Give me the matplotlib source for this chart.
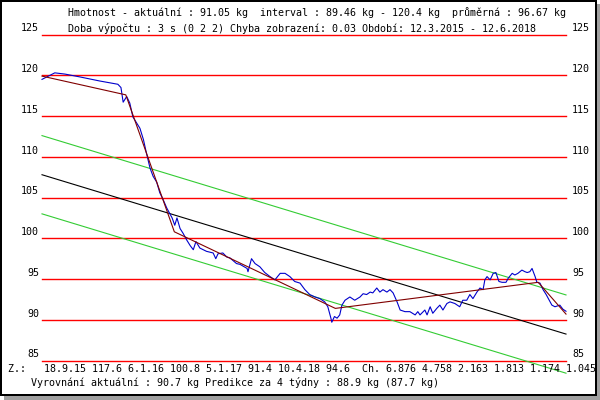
import matplotlib
matplotlib.use("Agg")
import matplotlib.pyplot as plt
from matplotlib.patches import Rectangle

# period 12.3.2015 - 12.6.2018, x = days since start
TOTAL_DAYS = 1188

# weight readings (days since start, kg)
days = [0, 29, 52, 86, 131, 172, 179, 184, 192, 199, 206, 215, 222, 230, 237, 245,
        252, 260, 267, 275, 283, 290, 295, 301, 306, 313, 320, 328, 336, 343, 349,
        358, 373, 388, 394, 399, 410, 419, 426, 441, 449, 465, 467, 475, 483, 494,
        505, 517, 528, 540, 551, 562, 573, 585, 596, 607, 619, 630, 641, 648, 655,
        657, 663, 669, 675, 680, 687, 698, 709, 721, 728, 736, 744, 750, 759, 766,
        773, 782, 789, 796, 805, 812, 823, 834, 846, 852, 857, 868, 873, 880, 886,
        895, 902, 909, 918, 925, 936, 947, 954, 963, 970, 977, 986, 993, 1000, 1004,
        1009, 1016, 1023, 1029, 1036, 1043, 1052, 1057, 1066, 1072, 1079, 1088, 1095,
        1100, 1106, 1111, 1118, 1122, 1129, 1136, 1143, 1149, 1156, 1163, 1174, 1181, 1188]
weight = [119.5, 120.3, 120.15, 119.8, 119.3, 118.9, 118.5, 116.7, 117.4, 116.6, 114.9,
          114.1, 113.5, 112.1, 110.4, 108.6, 107.6, 106.9, 105.6, 104.7, 103.7, 103.0,
          102.5, 101.6, 102.5, 101.2, 100.6, 99.8, 99.1, 98.6, 99.6, 98.8, 98.4, 98.2,
          97.5, 98.1, 98.2, 97.7, 97.6, 96.9, 96.8, 96.3, 95.9, 97.5, 96.9, 96.5, 95.8,
          95.3, 94.9, 95.7, 95.7, 95.3, 94.7, 94.5, 93.7, 93.1, 92.8, 92.6, 92.2, 91.6,
          90.2, 89.7, 90.4, 90.2, 90.6, 91.8, 92.4, 92.8, 92.4, 92.8, 93.2, 93.1, 93.4,
          93.3, 93.9, 93.4, 93.7, 93.4, 93.7, 93.3, 92.2, 91.2, 91.0, 91.0, 90.6, 91.0,
          90.6, 91.2, 90.6, 91.6, 90.8, 91.4, 91.8, 91.2, 92.0, 92.2, 92.0, 91.6, 92.4,
          92.4, 93.1, 92.6, 93.4, 93.9, 93.7, 94.9, 95.3, 94.9, 95.7, 95.8, 94.7, 94.6,
          94.6, 95.1, 95.7, 95.5, 95.7, 96.1, 95.9, 95.8, 95.9, 96.3, 95.3, 94.6, 94.5,
          93.7, 93.1, 92.5, 91.8, 91.6, 91.8, 91.3, 91.05]

# smoothed piecewise trend (break points from the "Z.:" line)
trend_days = [0, 190, 300, 665, 1125, 1188]
trend_vals = [119.9, 117.6, 100.8, 91.4, 94.6, 90.7]

# linear regression and its band
reg_days = [0, 1188]
reg_vals = [107.8, 88.25]
band = 4.8

grid_levels = [85, 90, 95, 100, 105, 110, 115, 120, 125]

header1 = "Hmotnost - aktuální : 91.05 kg  interval : 89.46 kg - 120.4 kg  průměrná : 96.67 kg"
header2 = "Doba výpočtu : 3 s (0 2 2) Chyba zobrazení: 0.03 Období: 12.3.2015 - 12.6.2018"
footer1 = "Z.:   18.9.15 117.6 6.1.16 100.8 5.1.17 91.4 10.4.18 94.6  Ch. 6.876 4.758 2.163 1.813 1.174 1.045"
footer2 = "Vyrovnání aktuální : 90.7 kg Predikce za 4 týdny : 88.9 kg (87.7 kg)"

W, H = 600, 400
fig = plt.figure(figsize=(6, 4), dpi=100)
fig.patch.set_facecolor("white")

def px(x, y):
    return x / W, 1 - y / H

# frame with shadow
fig.add_artist(Rectangle(px(4, 400), 596 / W, 396 / H, transform=fig.transFigure,
                         facecolor="#a0a0a0", edgecolor="none", zorder=0))
fig.add_artist(Rectangle(px(0, 396), 597 / W, 396 / H, transform=fig.transFigure,
                         facecolor="black", edgecolor="none", zorder=0))
fig.add_artist(Rectangle(px(2, 394), 593 / W, 392 / H, transform=fig.transFigure,
                         facecolor="white", edgecolor="none", zorder=0))

ax = fig.add_axes([0, 0, 1, 1])
ax.set_facecolor("none")
ax.axis("off")
ax.set_xlim(-42 * TOTAL_DAYS / 524, (W - 42) * TOTAL_DAYS / 524)
ax.set_ylim(120 - (H - 75.3) / 8.15, 120 + 75.3 / 8.15)

font = dict(family="DejaVu Sans Mono", fontsize=7.2, color="black")

for lv in grid_levels:
    ax.plot([0, TOTAL_DAYS], [lv, lv], color="#ff0000", lw=1.0, zorder=1)
    ax.text(-7, lv + 0.75, str(lv), ha="right", va="center", **font)
    ax.text(1202, lv + 0.75, str(lv), ha="left", va="center", **font)

ax.plot(reg_days, [v + band for v in reg_vals], color="#33cc33", lw=0.8, zorder=2)
ax.plot(reg_days, [v - band for v in reg_vals], color="#33cc33", lw=0.8, zorder=2)
ax.plot(reg_days, reg_vals, color="black", lw=0.8, zorder=2)
ax.plot(days, weight, color="#0000cc", lw=0.8, zorder=3)
ax.plot(trend_days, trend_vals, color="#800000", lw=0.8, zorder=4)

fig.text(*px(68, 13), header1, ha="left", va="center", **font)
fig.text(*px(68, 29), header2, ha="left", va="center", **font)
fig.text(*px(8, 369), footer1, ha="left", va="center", **font)
fig.text(*px(31, 383), footer2, ha="left", va="center", **font)

fig.savefig("out.png", dpi=100)
